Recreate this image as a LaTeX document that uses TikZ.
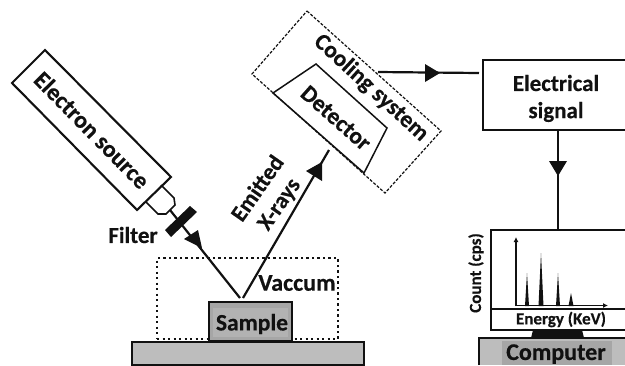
\documentclass[tikz,border=0pt]{standalone}
\usepackage{fontspec}
\setmainfont[BoldFeatures={FakeBold=0.4}]{Carlito}
\usetikzlibrary{arrows.meta}
\definecolor{stagegray}{HTML}{BDBDBD}
\definecolor{samplegray}{HTML}{A6A6A6}
\definecolor{labelgray}{HTML}{B2B2B2}
\definecolor{inkc}{HTML}{111111}
\tikzset{
  x=1pt,y=-1pt,
  lbl/.style={font=\bfseries\fontsize{#1}{#1}\selectfont,text=inkc,inner sep=0pt,align=center},
  lbl/.default=20,
  outline/.style={draw=inkc,line width=2.1pt,line join=miter},
  thin outline/.style={draw=inkc,line width=1.5pt},
  beam/.style={draw=inkc,line width=2.2pt},
  head/.style={fill=inkc,draw=none},
  pbox/.style={draw=inkc,line width=2.2pt,inner sep=0pt,anchor=north west},
}
\begin{document}
\begin{tikzpicture}
\useasboundingbox (0,0) rectangle (625,365);
% endpoints
\coordinate (nozzle) at (170,210);
\coordinate (hit1) at (240,298);
\coordinate (hit2) at (243,298);
\coordinate (detin) at (329,150);
\coordinate (coolout) at (378,72);
% vacuum
\node[draw=inkc,line width=2.1pt,dash pattern=on 2.1pt off 3.4pt,minimum width=181pt,minimum height=81pt,inner sep=0pt,anchor=north west] (vac) at (156,257) {};
% platform
\node[pbox,fill=stagegray,minimum width=232pt,minimum height=23pt] (stage) at (131,341) {};
\node[pbox,fill=samplegray,minimum width=83pt,minimum height=39pt] (samplebox) at (208,301) {};
\fill[labelgray] (213,308) rectangle (288,337);
\node[lbl=23.5] (sample) at (252,324) {Sample};
\node[lbl=24,fill=white,inner xsep=1pt] (vaccum) at (297,283) {Vaccum};
% electron source
\draw[outline,fill=white] (45,50) -- (12,83) -- (137,210) -- (171,177) -- cycle;
\draw[outline,line width=1.6pt] (161,185) -- (174,198) -- (175,205) -- (166,214) -- (158,214) -- (146,202);
\node[lbl=24,rotate=-45.5] (esrc) at (92,130) {Electron source};
% beams
\draw[beam] (nozzle) -- (hit1);
\draw[beam] (hit2) -- (detin);
\fill[inkc] (190,206) -- (197,212) -- (171,237) -- (165,230) -- cycle;
\node[lbl=23] (filter) at (133,235) {Filter};
\fill[head] (202,248) -- (198,230) -- (184,239) -- cycle;
\fill[head] (322,162) -- (306,171) -- (322,181) -- cycle;
\node[lbl=23,rotate=55] (emit) at (257,188) {Emitted};
\node[lbl=23,rotate=55] (xr) at (280,205) {X-rays};
% cooling
\draw[draw=inkc,line width=1.2pt,dash pattern=on 3pt off 1.6pt] (307,11) -- (441,131) -- (385,193) -- (252,74) -- cycle;
\draw[thin outline] (273,93) -- (316,64) -- (387,128) -- (364,173) -- cycle;
\node[lbl=23.5,rotate=-42.5] (cool) at (371,88) {Cooling system};
\node[lbl=23.5,rotate=-41.5] (det) at (336,118) {Detector};
% electrical signal
\node[pbox,fill=white,minimum width=145pt,minimum height=70pt] (sig) at (482,59) {};
\node[lbl=23] (sigt1) at (556,83) {Electrical};
\node[lbl=23] (sigt2) at (556,112) {signal};
\draw[beam] (coolout) -- (479,73);
\fill[head] (440,73) -- (425,64) -- (425,82) -- cycle;
% monitor
\node[pbox,fill=white,minimum width=136pt,minimum height=100pt] (mon) at (490,229) {};
\draw[beam] (558,129) -- (558,229);
\fill[head] (558,176) -- (549,161) -- (567,161) -- cycle;
\draw[outline] (490,309) -- (625,309);
\draw[inkc,line width=1.5pt,-{Latex[length=5pt,width=5pt]}] (516,306) -- (516,237);
\draw[inkc,line width=1.5pt,-{Latex[length=5pt,width=5pt]}] (515.3,305.5) -- (608,305.5);
\fill[inkc] (525,306) -- (527,273) -- (529,306) -- cycle;
\fill[inkc] (538.5,306) -- (541,253) -- (543.5,306) -- cycle;
\fill[inkc] (556,306) -- (558,273) -- (560,306) -- cycle;
\fill[inkc] (568.5,306) -- (571,293) -- (573.5,306) -- cycle;
\node[lbl=17] (energy) at (561,319.5) {Energy (KeV)};
\node[lbl=17,rotate=90] (count) at (476,273) {Count (cps)};
% computer
\fill[inkc] (533,330) -- (582,330) -- (584,338) -- (531,338) -- cycle;
\fill[stagegray] (479,338) rectangle (625,365);
\draw[inkc,line width=1.8pt] (479,365) -- (479,338) -- (625,338);
\fill[samplegray] (502,341) rectangle (612,365);
\node[lbl=24] (comp) at (556,354) {Computer};
\end{tikzpicture}
\end{document}
